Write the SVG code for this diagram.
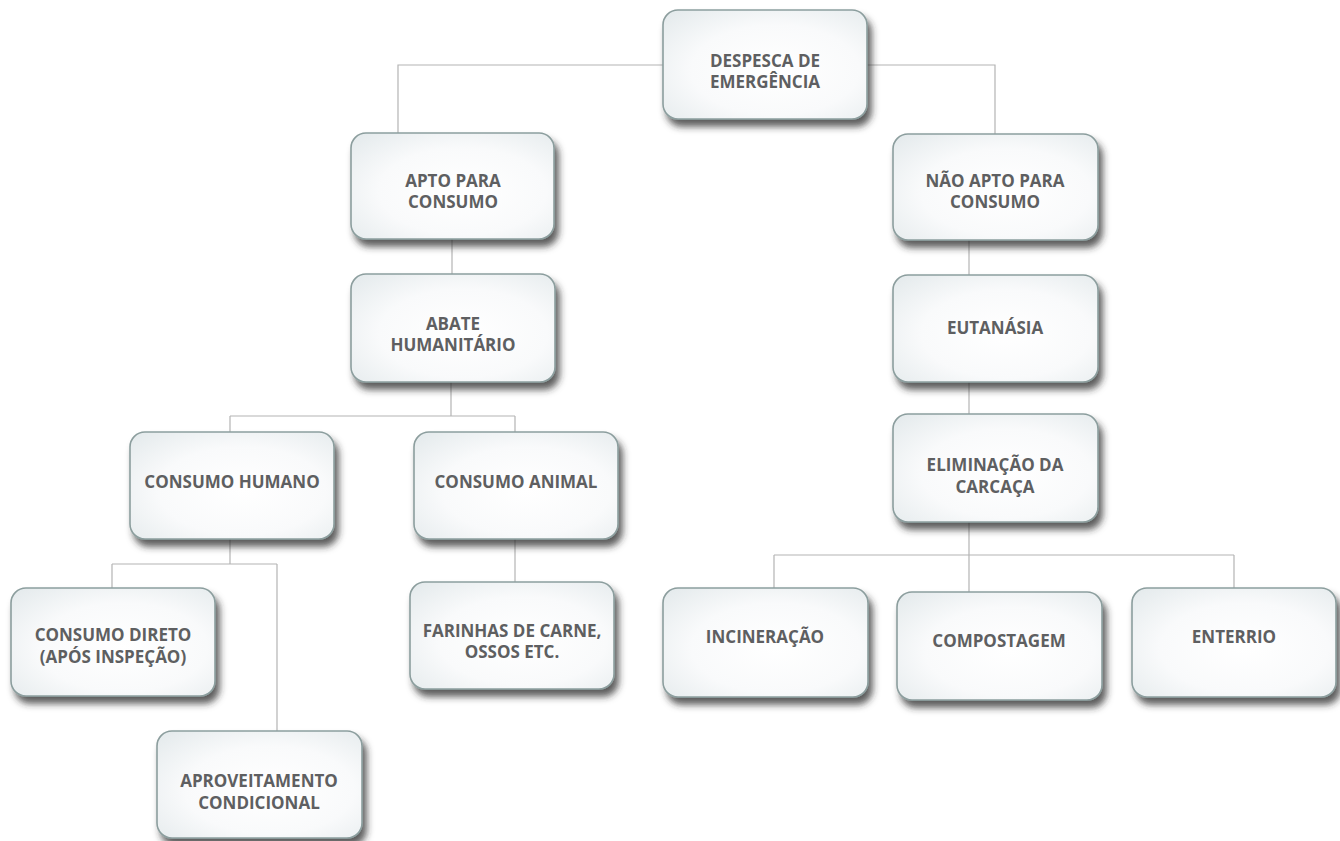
<svg xmlns="http://www.w3.org/2000/svg" width="1340" height="841" viewBox="0 0 1340 841">
<defs>
<radialGradient id="bg" cx="0.55" cy="0.55" r="0.75">
<stop offset="0" stop-color="#ffffff"/>
<stop offset="0.55" stop-color="#f9fafb"/>
<stop offset="1" stop-color="#e4eaec"/>
</radialGradient>
<filter id="sh" x="-10%" y="-15%" width="125%" height="140%">
<feGaussianBlur in="SourceAlpha" stdDeviation="3.5"/>
<feOffset dx="4" dy="7" result="b"/>
<feFlood flood-color="#2a2a2a" flood-opacity="0.75"/>
<feComposite in2="b" operator="in"/>
<feMerge><feMergeNode/><feMergeNode in="SourceGraphic"/></feMerge>
</filter>
</defs>
<style>
.box{fill:url(#bg);stroke:#8c9e9e;stroke-width:1.6;filter:url(#sh)}
.t{font-family:"Open Sans","Liberation Sans",sans-serif;font-weight:bold;font-size:17px;fill:#5e5f61;text-anchor:middle}
.c{fill:none;stroke:#b4b4b4;stroke-width:1.2}
</style>
<rect width="1340" height="841" fill="#ffffff"/>
<g id="connectors">
<path class="c" d="M663 65 H398 V133"/>
<path class="c" d="M867 65 H995 V134"/>
<path class="c" d="M452 238 V274"/>
<path class="c" d="M969 240 V275"/>
<path class="c" d="M969 382 V414"/>
<path class="c" d="M451 382 V416 M230 416 H515 M230 416 V432 M515 416 V432"/>
<path class="c" d="M230 539 V564 M112 564 H277 M112 564 V588 M277 564 V731"/>
<path class="c" d="M515 539 V582"/>
<path class="c" d="M969 522 V555 M774 555 H1234 M774 555 V588 M969 555 V592 M1234 555 V588"/>
</g>
<g id="n-despesca"><rect class="box" x="663" y="10" width="204" height="109" rx="15"/><text class="t" x="765" y="67">DESPESCA DE</text><text class="t" x="765" y="88">EMERGÊNCIA</text></g>
<g id="n-apto"><rect class="box" x="351" y="133" width="203" height="106" rx="15"/><text class="t" x="453" y="187">APTO PARA</text><text class="t" x="453" y="208">CONSUMO</text></g>
<g id="n-naoapto"><rect class="box" x="893" y="134" width="205" height="106" rx="15"/><text class="t" x="995" y="187">NÃO APTO PARA</text><text class="t" x="995" y="208">CONSUMO</text></g>
<g id="n-abate"><rect class="box" x="351" y="274" width="204" height="108" rx="15"/><text class="t" x="453" y="330">ABATE</text><text class="t" x="453" y="351">HUMANITÁRIO</text></g>
<g id="n-eutanasia"><rect class="box" x="893" y="275" width="205" height="107" rx="15"/><text class="t" x="995" y="334">EUTANÁSIA</text></g>
<g id="n-eliminacao"><rect class="box" x="893" y="414" width="205" height="108" rx="15"/><text class="t" x="995" y="471">ELIMINAÇÃO DA</text><text class="t" x="995" y="493">CARCAÇA</text></g>
<g id="n-humano"><rect class="box" x="130" y="432" width="204" height="107" rx="15"/><text class="t" x="232" y="488">CONSUMO HUMANO</text></g>
<g id="n-animal"><rect class="box" x="414" y="432" width="204" height="107" rx="15"/><text class="t" x="516" y="488">CONSUMO ANIMAL</text></g>
<g id="n-direto"><rect class="box" x="11" y="588" width="204" height="108" rx="15"/><text class="t" x="113" y="641">CONSUMO DIRETO</text><text class="t" x="113" y="663">(APÓS INSPEÇÃO)</text></g>
<g id="n-farinhas"><rect class="box" x="410" y="582" width="204" height="107" rx="15"/><text class="t" x="512" y="637">FARINHAS DE CARNE,</text><text class="t" x="512" y="658">OSSOS ETC.</text></g>
<g id="n-aproveitamento"><rect class="box" x="157" y="731" width="205" height="107" rx="15"/><text class="t" x="259" y="787">APROVEITAMENTO</text><text class="t" x="259" y="809">CONDICIONAL</text></g>
<g id="n-incineracao"><rect class="box" x="663" y="588" width="205" height="109" rx="15"/><text class="t" x="765" y="643">INCINERAÇÃO</text></g>
<g id="n-compostagem"><rect class="box" x="897" y="592" width="205" height="108" rx="15"/><text class="t" x="999" y="647">COMPOSTAGEM</text></g>
<g id="n-enterrio"><rect class="box" x="1132" y="588" width="204" height="109" rx="15"/><text class="t" x="1234" y="643">ENTERRIO</text></g>
</svg>
